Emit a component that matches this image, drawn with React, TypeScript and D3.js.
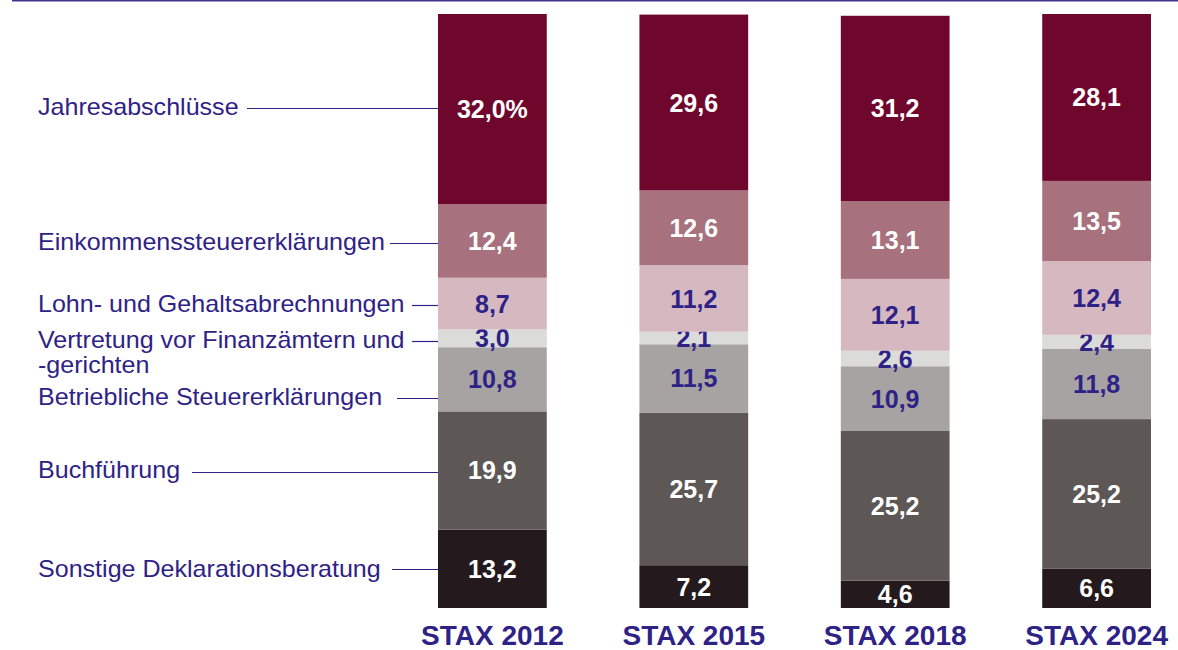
import React from "react";
import * as d3 from "d3";

const years = ["STAX 2012", "STAX 2015", "STAX 2018", "STAX 2024"];
// stacked from bottom to top
const categories = [
  "Sonstige Deklarationsberatung",
  "Buchführung",
  "Betriebliche Steuererklärungen",
  "Vertretung vor Finanzämtern und -gerichten",
  "Lohn- und Gehaltsabrechnungen",
  "Einkommenssteuererklärungen",
  "Jahresabschlüsse",
];
const sonstige = [13.2, 7.2, 4.6, 6.6];
const buchfuehrung = [19.9, 25.7, 25.2, 25.2];
const betrieblich = [10.8, 11.5, 10.9, 11.8];
const vertretung = [3.0, 2.1, 2.6, 2.4];
const lohn = [8.7, 11.2, 12.1, 12.4];
const einkommen = [12.4, 12.6, 13.1, 13.5];
const jahresabschluesse = [32.0, 29.6, 31.2, 28.1];
const seriesValues = [sonstige, buchfuehrung, betrieblich, vertretung, lohn, einkommen, jahresabschluesse];

// styles (not data)
const colors = ["#241a1d", "#5d5756", "#a7a3a2", "#dbdbd9", "#d6b8c0", "#a8717e", "#6f072d"];
const valueColors = ["#ffffff", "#ffffff", "#2e2287", "#2e2287", "#2e2287", "#ffffff", "#ffffff"];
const PURPLE = "#2e2287";
// layout of left labels (text middle y, leader line start x, line y) per category
const labelLayout = [
  { lines: ["Sonstige Deklarationsberatung"], y: 569, lx: 392, ly: 569 },
  { lines: ["Buchführung"], y: 470, lx: 192, ly: 472 },
  { lines: ["Betriebliche Steuererklärungen"], y: 397, lx: 397, ly: 398 },
  { lines: ["Vertretung vor Finanzämtern und", "-gerichten"], y: 340, lx: 412, ly: 341 },
  { lines: ["Lohn- und Gehaltsabrechnungen"], y: 304, lx: 412, ly: 305 },
  { lines: ["Einkommenssteuererklärungen"], y: 242, lx: 390, ly: 243 },
  { lines: ["Jahresabschlüsse"], y: 107, lx: 247, ly: 108 },
];

const fmt = (v: number) => v.toFixed(1).replace(".", ",");

export default function App() {
  const W = 1178, H = 650;
  const x = d3.scaleBand<string>().domain(years).range([438, 1151]).paddingInner(0.46).paddingOuter(0);
  const y = d3.scaleLinear().domain([0, 100]).range([608, 14]);

  const table = years.map((yr, i) => {
    const row: any = { year: yr };
    categories.forEach((c, k) => (row[c] = seriesValues[k][i]));
    return row;
  });
  const stacked = d3.stack<any>().keys(categories)(table);

  return (
    <svg width={W} height={H} style={{ position: "absolute", left: 0, top: 0, fontFamily: "'Liberation Sans', Arial, sans-serif" }}>
      <line x1={12} x2={W} y1={0.5} y2={0.5} stroke="#433393" strokeWidth={2} />
      {stacked.map((s, k) => (
        <g key={k}>
          {s.map((d, i) => {
            const yr = years[i];
            const x0 = x(yr)!;
            const y0 = y(d[1]);
            const y1 = y(d[0]);
            const cy = (y0 + y1) / 2;
            const v = seriesValues[k][i];
            const txt = fmt(v) + (i === 0 && k === categories.length - 1 ? "%" : "");
            return (
              <g key={i}>
                <rect x={x0} y={y0} width={x.bandwidth()} height={y1 - y0} fill={colors[k]} />
                <text x={x0 + x.bandwidth() / 2} y={cy + 9} textAnchor="middle" fontSize={25} fontWeight="bold" fill={valueColors[k]}>
                  {txt}
                </text>
              </g>
            );
          })}
        </g>
      ))}
      {labelLayout.map((l, k) => (
        <g key={"l" + k}>
          <g transform="translate(38,0) scale(1.09,1)">
            {l.lines.map((t, j) => (
              <text key={j} x={0} y={l.y + 8 + j * 25} fontSize={23} fill={PURPLE}>
                {t}
              </text>
            ))}
          </g>
          <line x1={l.lx} x2={x(years[0])!} y1={l.ly + 0.5} y2={l.ly + 0.5} stroke={PURPLE} strokeWidth={1.2} />
        </g>
      ))}
      {years.map((yr) => (
        <text key={yr} x={x(yr)! + x.bandwidth() / 2} y={645} textAnchor="middle" fontSize={28} fontWeight="bold" fill={PURPLE}>
          {yr}
        </text>
      ))}
    </svg>
  );
}
